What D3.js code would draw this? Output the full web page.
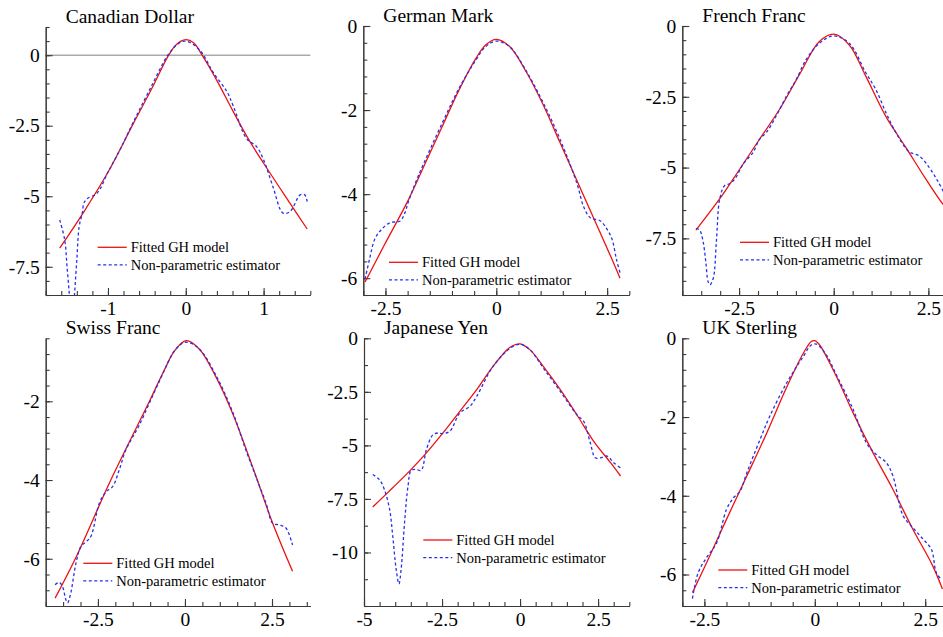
<!DOCTYPE html>
<html>
<head>
<meta charset="utf-8">
<script src="https://cdn.jsdelivr.net/npm/d3@7"></script>
<style>
  html, body { margin: 0; padding: 0; background: #fff; }
  svg { display: block; }
</style>
</head>
<body>
<svg id="chart" width="943" height="637"></svg>
<script>
// ---------------- DATA ----------------
const panelNames = ["Canadian Dollar", "German Mark", "French Franc", "Swiss Franc", "Japanese Yen", "UK Sterling"];
const seriesNames = ["Fitted GH model", "Non-parametric estimator"];

// Fitted GH model (x, log-density) and non-parametric estimate
const cadFitted = [[-1.62,-6.84],[-1.31,-5.55],[-1.0,-4.15],[-0.67,-2.4],[-0.44,-1.2],[-0.22,0],[-0.12,0.38],[0,0.55],[0.1,0.44],[0.21,0],[0.4,-0.9],[0.61,-2.0],[0.8,-2.95],[1.0,-3.83],[1.34,-5.25],[1.56,-6.16]];
const cadNonPar = [[-1.62,-5.84],[-1.556,-6.54],[-1.526,-7.49],[-1.496,-8.49],[-1.475,-9.3],[-1.45,-9.2],[-1.43,-8.49],[-1.40,-7.25],[-1.37,-6.07],[-1.33,-5.6],[-1.31,-5.25],[-1.27,-5.09],[-1.14,-4.89],[-1.0,-4.15],[-0.84,-3.32],[-0.67,-2.35],[-0.46,-1.2],[-0.23,0],[-0.1,0.4],[0,0.5],[0.18,0.18],[0.35,-0.6],[0.53,-1.3],[0.61,-1.8],[0.78,-2.95],[0.91,-3.24],[1.0,-3.71],[1.12,-4.66],[1.25,-5.6],[1.34,-5.54],[1.47,-4.95],[1.53,-4.95],[1.56,-5.19]];

const demFitted = [[-2.96,-6.09],[-2.52,-5.2],[-1.98,-4.13],[-1.6,-3.26],[-1.22,-2.39],[-0.84,-1.52],[-0.46,-0.77],[-0.24,-0.45],[0,-0.32],[0.3,-0.49],[0.68,-1.1],[1.06,-1.88],[1.44,-2.78],[1.82,-3.68],[2.2,-4.58],[2.58,-5.48],[2.79,-6.0]];
const demNonPar = [[-2.96,-6.02],[-2.86,-5.55],[-2.74,-5.07],[-2.59,-4.84],[-2.4,-4.68],[-2.17,-4.64],[-2.06,-4.44],[-1.98,-4.17],[-1.76,-3.57],[-1.22,-2.31],[-0.84,-1.48],[-0.46,-0.81],[-0.24,-0.49],[0,-0.36],[0.3,-0.49],[0.68,-1.08],[1.06,-1.83],[1.44,-2.7],[1.82,-3.75],[1.97,-4.3],[2.12,-4.56],[2.35,-4.64],[2.5,-4.84],[2.61,-5.07],[2.71,-5.55],[2.79,-5.87]];

const frfFitted = [[-3.64,-7.21],[-3.01,-6.1],[-2.48,-5.05],[-1.96,-4.0],[-1.43,-2.94],[-0.9,-1.7],[-0.38,-0.55],[0,-0.29],[0.41,-0.67],[0.85,-1.78],[1.38,-3.2],[1.9,-4.28],[2.43,-5.4],[2.82,-6.18],[2.9,-6.32]];
const frfNonPar = [[-3.64,-7.15],[-3.54,-7.21],[-3.45,-7.62],[-3.38,-8.32],[-3.32,-9.02],[-3.27,-9.14],[-3.18,-8.9],[-3.1,-7.62],[-3.01,-6.1],[-2.88,-5.63],[-2.75,-5.57],[-2.61,-5.4],[-2.39,-4.87],[-2.13,-4.46],[-1.96,-4.0],[-1.78,-3.76],[-1.52,-3.18],[-1.25,-2.48],[-0.99,-1.89],[-0.73,-1.19],[-0.38,-0.61],[0,-0.35],[0.41,-0.61],[0.85,-1.66],[1.11,-2.24],[1.38,-3.06],[1.64,-3.76],[1.99,-4.44],[2.25,-4.58],[2.52,-4.99],[2.74,-5.46],[2.9,-5.85]];

const chfFitted = [[-3.73,-7.0],[-3.15,-6.0],[-2.13,-4.0],[-1.02,-2.0],[-0.6,-1.22],[-0.3,-0.72],[0.03,-0.46],[0.41,-0.67],[0.89,-1.38],[1.37,-2.31],[1.94,-3.66],[2.52,-5.1],[3.09,-6.32]];
const chfNonPar = [[-3.73,-6.66],[-3.61,-6.6],[-3.52,-6.7],[-3.42,-7.04],[-3.37,-7.12],[-3.28,-6.87],[-3.13,-6.11],[-2.99,-5.69],[-2.83,-5.56],[-2.7,-5.43],[-2.46,-4.59],[-2.27,-4.3],[-2.08,-4.17],[-1.89,-3.75],[-1.7,-3.24],[-1.31,-2.6],[-0.74,-1.5],[-0.26,-0.67],[0.03,-0.5],[0.41,-0.67],[0.89,-1.34],[1.37,-2.27],[1.75,-3.24],[2.04,-3.92],[2.33,-4.59],[2.52,-5.1],[2.71,-5.14],[2.9,-5.22],[3.09,-5.65]];

const jpyFitted = [[-4.72,-7.88],[-4.08,-6.98],[-3.54,-6.2],[-3.0,-5.35],[-2.47,-4.42],[-1.93,-3.41],[-1.39,-2.4],[-0.86,-1.3],[-0.32,-0.42],[0,-0.26],[0.32,-0.54],[0.75,-1.32],[1.29,-2.4],[1.82,-3.57],[2.36,-4.81],[2.9,-5.81],[3.22,-6.43]];
const jpyNonPar = [[-4.72,-6.36],[-4.51,-6.59],[-4.35,-7.05],[-4.18,-7.98],[-4.08,-9.22],[-3.97,-10.78],[-3.88,-11.47],[-3.81,-10.78],[-3.7,-8.6],[-3.59,-6.9],[-3.49,-6.17],[-3.33,-6.12],[-3.17,-6.17],[-3.0,-5.19],[-2.79,-4.5],[-2.63,-4.42],[-2.47,-4.45],[-2.25,-4.34],[-1.93,-3.49],[-1.61,-3.18],[-1.39,-2.71],[-0.86,-1.3],[-0.32,-0.47],[0,-0.28],[0.32,-0.54],[0.75,-1.4],[1.29,-2.48],[1.82,-3.57],[2.04,-3.88],[2.25,-4.88],[2.41,-5.58],[2.58,-5.58],[2.79,-5.5],[3.0,-5.81],[3.22,-6.05]];

const gbpFitted = [[-2.77,-6.46],[-2.45,-5.7],[-2.0,-4.6],[-1.54,-3.5],[-1.09,-2.41],[-0.64,-1.25],[-0.26,-0.38],[-0.08,-0.08],[0,-0.06],[0.11,-0.17],[0.49,-0.97],[0.87,-1.9],[1.32,-2.91],[1.77,-3.84],[2.22,-4.85],[2.67,-5.78],[2.89,-6.37]];
const gbpNonPar = [[-2.77,-6.61],[-2.64,-5.95],[-2.45,-5.57],[-2.22,-5.19],[-2.0,-4.35],[-1.84,-4.05],[-1.69,-3.88],[-1.54,-3.42],[-1.24,-2.57],[-1.02,-1.98],[-0.64,-1.14],[-0.26,-0.46],[-0.08,-0.17],[0.04,-0.15],[0.26,-0.42],[0.49,-0.93],[0.87,-1.81],[1.17,-2.66],[1.39,-2.95],[1.62,-3.16],[1.77,-3.5],[2.0,-4.51],[2.22,-4.81],[2.45,-5.1],[2.64,-5.36],[2.75,-5.95],[2.86,-6.12]];

// Tick labels
const cadXTicks = [-1, 0, 1], cadYTicks = [0, -2.5, -5, -7.5];
const demXTicks = [-2.5, 0, 2.5], demYTicks = [0, -2, -4, -6];
const frfXTicks = [-2.5, 0, 2.5], frfYTicks = [0, -2.5, -5, -7.5];
const chfXTicks = [-2.5, 0, 2.5], chfYTicks = [-2, -4, -6];
const jpyXTicks = [-5, -2.5, 0, 2.5], jpyYTicks = [0, -2.5, -5, -7.5, -10];
const gbpXTicks = [-2.5, 0, 2.5], gbpYTicks = [0, -2, -4, -6];

// ---------------- LAYOUT ----------------
const panels = [
  {name: panelNames[0], fit: cadFitted, np: cadNonPar, xt: cadXTicks, yt: cadYTicks,
   xd: [-1.8, 1.6], yd: [-8.5, 1], xMinor: 0.2, yMinor: 0.5,
   box: [45.7, 27, 310.3, 295], leg: [97.7, 247.3], zero: true},
  {name: panelNames[1], fit: demFitted, np: demNonPar, xt: demXTicks, yt: demYTicks,
   xd: [-3, 3], yd: [-6.4, 0], xMinor: 0.5, yMinor: 0.4,
   box: [363.3, 26, 629.3, 295], leg: [389, 262.3]},
  {name: panelNames[2], fit: frfFitted, np: frfNonPar, xt: frfXTicks, yt: frfYTicks,
   xd: [-4, 3], yd: [-9.5, 0], xMinor: 0.5, yMinor: 0.5,
   box: [682.3, 26, 947.3, 295], leg: [740, 242.3]},
  {name: panelNames[3], fit: chfFitted, np: chfNonPar, xt: chfXTicks, yt: chfYTicks,
   xd: [-4, 3.6], yd: [-7.2, -0.4], xMinor: 0.5, yMinor: 0.4,
   box: [45.7, 338.3, 310.3, 606], leg: [83.3, 563.3]},
  {name: panelNames[4], fit: jpyFitted, np: jpyNonPar, xt: jpyXTicks, yt: jpyYTicks,
   xd: [-5, 3.5], yd: [-12.5, 0], xMinor: 0.5, yMinor: 1.25,
   box: [364, 338.3, 629.3, 606], leg: [423.3, 540]},
  {name: panelNames[5], fit: gbpFitted, np: gbpNonPar, xt: gbpXTicks, yt: gbpYTicks,
   xd: [-3, 3], yd: [-6.8, 0], xMinor: 0.5, yMinor: 0.4,
   box: [682.3, 338.3, 947.3, 606], leg: [718.3, 570]}
];

const FONT = "Liberation Serif";
const AXIS = "#3a3a3a";
const RED = "#ee1111";
const BLUE = "#2630ee";
const fmt = v => String(v).replace("\u2212", "-");

const svg = d3.select("#chart");
const defs = svg.append("defs");

function range(a, b, step) {
  const out = [];
  const start = Math.ceil(a / step - 1e-9);
  for (let i = start; i * step <= b + 1e-9; i++) out.push(+(i * step).toFixed(6));
  return out;
}

panels.forEach((p, i) => {
  const [x0, y0, x1, y1] = p.box;
  const x = d3.scaleLinear().domain(p.xd).range([x0, x1]);
  const y = d3.scaleLinear().domain(p.yd).range([y1, y0]);
  const g = svg.append("g");

  defs.append("clipPath").attr("id", "clip" + i)
    .append("rect").attr("x", x0).attr("y", y0).attr("width", x1 - x0).attr("height", y1 - y0);

  if (p.zero) {
    g.append("line").attr("x1", x0).attr("x2", x1).attr("y1", y(0)).attr("y2", y(0))
      .attr("stroke", "#aaaaaa").attr("stroke-width", 1.6);
  }

  // minor ticks
  const xMinorAxis = d3.axisBottom(x).tickValues(range(p.xd[0], p.xd[1], p.xMinor))
    .tickSizeInner(-4).tickSizeOuter(0).tickFormat("");
  const yMinorAxis = d3.axisLeft(y).tickValues(range(p.yd[0], p.yd[1], p.yMinor))
    .tickSizeInner(-4).tickSizeOuter(0).tickFormat("");
  g.append("g").attr("transform", `translate(0,${y1})`).call(xMinorAxis);
  g.append("g").attr("transform", `translate(${x0},0)`).call(yMinorAxis);

  // major ticks with labels
  const xAxis = d3.axisBottom(x).tickValues(p.xt).tickSizeInner(-7).tickSizeOuter(0)
    .tickPadding(6).tickFormat(fmt);
  const yAxis = d3.axisLeft(y).tickValues(p.yt).tickSizeInner(-7).tickSizeOuter(0)
    .tickPadding(6).tickFormat(fmt);
  g.append("g").attr("transform", `translate(0,${y1})`).call(xAxis);
  g.append("g").attr("transform", `translate(${x0},0)`).call(yAxis);

  g.selectAll("g").attr("font-family", FONT);
  g.selectAll(".domain, .tick line").attr("stroke", AXIS).attr("stroke-width", 1.1);
  g.selectAll(".tick text").attr("font-family", FONT).attr("font-size", 19.5).attr("fill", "#000");

  // title
  g.append("text").attr("x", x0 + 20).attr("y", y0 - 4)
    .attr("font-family", FONT).attr("font-size", 19.5).attr("fill", "#000").text(p.name);

  const line = d3.line().x(d => x(d[0])).y(d => y(d[1])).curve(d3.curveCatmullRom.alpha(0.5));
  const plot = g.append("g").attr("clip-path", `url(#clip${i})`);
  plot.append("path").datum(p.fit).attr("d", line).attr("fill", "none")
    .attr("stroke", RED).attr("stroke-width", 1.3);
  plot.append("path").datum(p.np).attr("d", line).attr("fill", "none")
    .attr("stroke", BLUE).attr("stroke-width", 1.3).attr("stroke-dasharray", "3,2.5");

  // legend
  const [lx, ly] = p.leg;
  const lg = g.append("g");
  [[RED, null], [BLUE, "3,2.5"]].forEach((s, k) => {
    const yy = ly + k * 17.6;
    lg.append("line").attr("x1", lx).attr("x2", lx + 29).attr("y1", yy).attr("y2", yy)
      .attr("stroke", s[0]).attr("stroke-width", 1.3).attr("stroke-dasharray", s[1]);
    lg.append("text").attr("x", lx + 33).attr("y", yy).attr("dy", "0.35em")
      .attr("font-family", FONT).attr("font-size", 14.5).attr("fill", "#000").text(seriesNames[k]);
  });
});
</script>
</body>
</html>
